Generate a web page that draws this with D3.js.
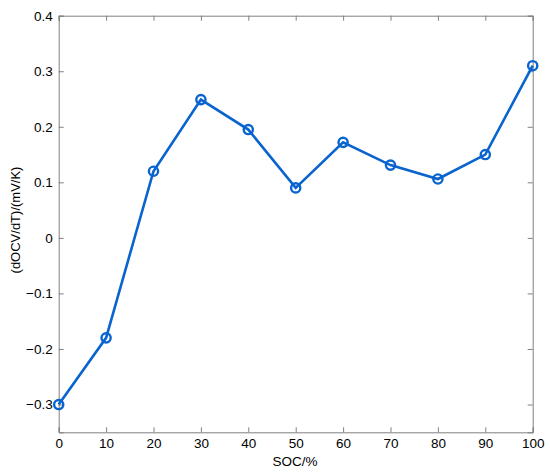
<!DOCTYPE html>
<html><head><meta charset="utf-8">
<script src="https://cdn.jsdelivr.net/npm/d3@7"></script>
<style>body{margin:0;background:#fff}svg{display:block}text{font-family:"Liberation Sans",Arial,sans-serif}</style>
</head><body>
<svg id="c" width="550" height="476"></svg>
<script>
const soc = [0,10,20,30,40,50,60,70,80,90,100];
const dOCVdT = [-0.30,-0.18,0.12,0.249,0.195,0.09,0.172,0.131,0.106,0.15,0.31];
const xTicks = [0,10,20,30,40,50,60,70,80,90,100];
const yTicks = [-0.3,-0.2,-0.1,0,0.1,0.2,0.3,0.4];

const svg = d3.select("#c");
const L=58.7,R=532.7,T=15.7,B=432.3;
const x = d3.scaleLinear().domain([0,100]).range([L,R]);
const y = d3.scaleLinear().domain([-0.35,0.4]).range([B,T]);
const axisColor="#808080";
const fs="13.5px";

const fmt = d => d===0?"0":d3.format(".1f")(d);
const gx = svg.append("g").attr("transform",`translate(0,${B})`).call(d3.axisBottom(x).tickValues(xTicks).tickSize(-5).tickPadding(6));
const gy = svg.append("g").attr("transform",`translate(${L},0)`).call(d3.axisLeft(y).tickValues(yTicks).tickFormat(fmt).tickSize(-5).tickPadding(6));
const gt = svg.append("g").attr("transform",`translate(0,${T})`).call(d3.axisTop(x).tickValues(xTicks).tickSize(-5).tickFormat(""));
const gr = svg.append("g").attr("transform",`translate(${R},0)`).call(d3.axisRight(y).tickValues(yTicks).tickSize(-5).tickFormat(""));
[gx,gy,gt,gr].forEach(g=>{
  g.select(".domain").attr("stroke",axisColor).attr("stroke-width",1);
  g.selectAll(".tick line").attr("stroke",axisColor);
  g.selectAll(".tick text").attr("fill","#000").attr("font-size",fs).attr("font-family","'Liberation Sans',Arial,sans-serif");
});

const pts = soc.map((s,i)=>({s,v:dOCVdT[i]}));
svg.append("path").datum(pts)
  .attr("fill","none").attr("stroke","#0a64cf").attr("stroke-width",2.6)
  .attr("d",d3.line().x(d=>x(d.s)).y(d=>y(d.v)));
svg.selectAll("circle.m").data(pts).join("circle").attr("class","m")
  .attr("cx",d=>x(d.s)).attr("cy",d=>y(d.v)).attr("r",4.6)
  .attr("fill","none").attr("stroke","#0a64cf").attr("stroke-width",2.4);

svg.append("text").attr("x",295).attr("y",466).attr("text-anchor","middle")
  .attr("font-size",fs).text("SOC/%");
svg.append("text").attr("transform",`translate(20,220) rotate(-90)`).attr("text-anchor","middle")
  .attr("font-size","13px").text("(dOCV/dT)/(mV/K)");
</script>
</body></html>
